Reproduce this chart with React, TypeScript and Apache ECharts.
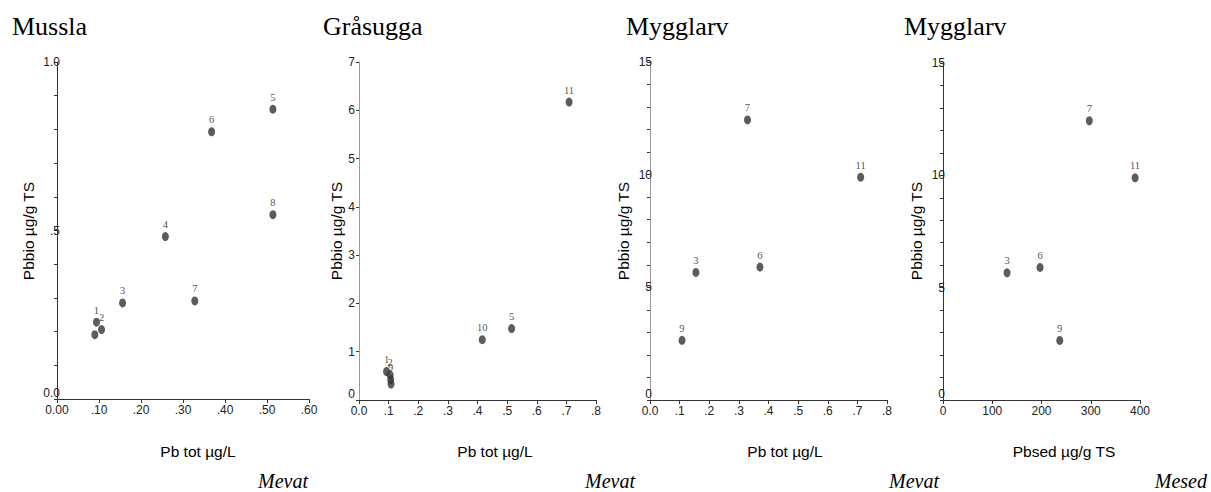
import React, { useEffect, useRef } from "react";
import * as echarts from "echarts";

// ---- data ----
const panelTitles = ["Mussla", "Gråsugga", "Mygglarv", "Mygglarv"];
const panelNotes = ["Mevat", "Mevat", "Mevat", "Mesed"];
const xTitles = ["Pb tot µg/L", "Pb tot µg/L", "Pb tot µg/L", "Pbsed µg/g TS"];
const yTitle = "Pbbio µg/g TS";

const musslaLabels = ["1", "2", "", "3", "4", "5", "6", "7", "8"];
const musslaPbTot = [0.094, 0.106, 0.09, 0.156, 0.258, 0.514, 0.368, 0.328, 0.514];
const musslaPbBio = [0.228, 0.206, 0.191, 0.285, 0.482, 0.86, 0.793, 0.291, 0.547];

const grasuggaLabels = ["1", "2", "9", "", "10", "5", "11"];
const grasuggaPbTot = [0.093, 0.105, 0.107, 0.108, 0.416, 0.515, 0.709];
const grasuggaPbBio = [0.59, 0.52, 0.42, 0.33, 1.25, 1.48, 6.17];

const mygglarvLabels = ["3", "6", "7", "9", "11"];
const mygglarvPbTot = [0.155, 0.371, 0.329, 0.108, 0.711];
const mygglarvPbSed = [130, 197, 297, 237, 390];
const mygglarvPbBio = [5.66, 5.9, 12.43, 2.65, 9.89];

const sans = "'Liberation Sans', Arial, sans-serif";
const serif = "'Liberation Serif', 'Times New Roman', serif";

const near = (a: number, b: number) => Math.abs(a - b) < 1e-6;

function build(xs: number[], ys: number[], labels: string[]) {
  return xs.map((x, i) => [x, ys[i], labels[i]]);
}

export default function App() {
  const ref = useRef<HTMLDivElement>(null);
  useEffect(() => {
    if (!ref.current) return;
    const chart = echarts.init(ref.current, undefined, { renderer: "svg" });

    const grids = [
      { left: 57, top: 62, width: 252, height: 337 },
      { left: 359, top: 62, width: 237, height: 338 },
      { left: 650, top: 62, width: 237, height: 338 },
      { left: 943, top: 63, width: 197, height: 337 },
    ];

    const dark = "#333";
    const gray = "#999";
    const tickLabel = { fontFamily: sans, fontSize: 12, color: "#222" };
    const zeroRich = { z: { fontFamily: sans, fontSize: 12, color: "#222", padding: [0, 0, 13, 0] } };

    const xAxes = [
      {
        min: 0, max: 0.6, interval: 0.1,
        fmt: (v: number) => (near(v, 0) ? "0.00" : "." + Math.round(v * 100).toString().padStart(2, "0")),
        line: dark,
      },
      {
        min: 0, max: 0.8, interval: 0.1,
        fmt: (v: number) => (near(v, 0) ? "0.0" : "." + Math.round(v * 10)),
        line: dark,
      },
      {
        min: 0, max: 0.8, interval: 0.1,
        fmt: (v: number) => (near(v, 0) ? "0.0" : "." + Math.round(v * 10)),
        line: dark,
      },
      { min: 0, max: 400, interval: 100, fmt: (v: number) => String(Math.round(v)), line: dark },
    ];

    const yAxes = [
      {
        min: 0, max: 1, interval: 0.1, margin: -3, line: dark,
        fmt: (v: number) => (near(v, 1) ? "1.0" : near(v, 0.5) ? ".5" : near(v, 0) ? "{z|0.0}" : ""),
      },
      {
        min: 0, max: 7, interval: 1, margin: 4, line: gray,
        fmt: (v: number) => (near(v, 0) ? "{z|0}" : String(Math.round(v))),
      },
      {
        min: 0, max: 15, interval: 1, margin: -2, line: gray,
        fmt: (v: number) => (near(v, 0) ? "{z|0}" : Math.round(v) % 5 === 0 ? String(Math.round(v)) : ""),
      },
      {
        min: 0, max: 15, interval: 1, margin: -2, line: dark,
        fmt: (v: number) => (near(v, 0) ? "{z|0}" : Math.round(v) % 5 === 0 ? String(Math.round(v)) : ""),
      },
    ];

    const seriesData = [
      build(musslaPbTot, musslaPbBio, musslaLabels),
      build(grasuggaPbTot, grasuggaPbBio, grasuggaLabels),
      build(mygglarvPbTot, mygglarvPbBio, mygglarvLabels),
      build(mygglarvPbSed, mygglarvPbBio, mygglarvLabels),
    ];

    const xTitleCenters = [198, 495, 785, 1064];
    const yTitleCenters = [28, 336, 623, 916];
    const titleLefts = [12, 323, 626, 904];
    const noteRights = [308, 635, 939, 1207];

    const graphic: any[] = [];
    for (let i = 0; i < 4; i++) {
      graphic.push({
        type: "text", x: titleLefts[i], y: 26,
        style: { text: panelTitles[i], font: `26px ${serif}`, fill: "#000", align: "left", verticalAlign: "middle" },
      });
      graphic.push({
        type: "text", x: noteRights[i], y: 481,
        style: { text: panelNotes[i], font: `italic 20px ${serif}`, fill: "#000", align: "right", verticalAlign: "middle" },
      });
      graphic.push({
        type: "text", x: xTitleCenters[i], y: 451,
        style: { text: xTitles[i], font: `15.5px ${sans}`, fill: "#000", align: "center", verticalAlign: "middle" },
      });
      graphic.push({
        type: "text", x: yTitleCenters[i], y: 231, rotation: Math.PI / 2,
        style: { text: yTitle, font: `15.5px ${sans}`, fill: "#000", align: "center", verticalAlign: "middle" },
      });
    }

    chart.setOption({
      animation: false,
      backgroundColor: "#fff",
      grid: grids,
      xAxis: xAxes.map((a, i) => ({
        type: "value", gridIndex: i, min: a.min, max: a.max, interval: a.interval,
        axisLine: { show: true, lineStyle: { color: a.line, width: 1 } },
        axisTick: { show: true, inside: false, length: 4, lineStyle: { color: dark } },
        axisLabel: { ...tickLabel, margin: 5, formatter: a.fmt, showMinLabel: true, showMaxLabel: true },
        splitLine: { show: false },
      })),
      yAxis: yAxes.map((a, i) => ({
        type: "value", gridIndex: i, min: a.min, max: a.max, interval: a.interval,
        axisLine: { show: true, lineStyle: { color: a.line, width: 1 } },
        axisTick: { show: true, inside: false, length: 3, lineStyle: { color: dark } },
        axisLabel: {
          ...tickLabel, margin: a.margin, formatter: a.fmt, rich: zeroRich,
          showMinLabel: true, showMaxLabel: true,
        },
        splitLine: { show: false },
      })),
      series: seriesData.map((d, i) => ({
        type: "scatter", xAxisIndex: i, yAxisIndex: i, data: d,
        symbol: "circle", symbolSize: [7, 9],
        itemStyle: { color: "#333" },
        label: {
          show: true, position: "top", distance: 2,
          formatter: (p: any) => p.value[2],
          fontFamily: serif, fontSize: 10.5, color: "#222",
        },
      })),
      graphic,
    });
    return () => chart.dispose();
  }, []);

  return (
    <div
      ref={ref}
      style={{ position: "fixed", left: 0, top: 0, width: 1211, height: 492, background: "#fff" }}
    />
  );
}
